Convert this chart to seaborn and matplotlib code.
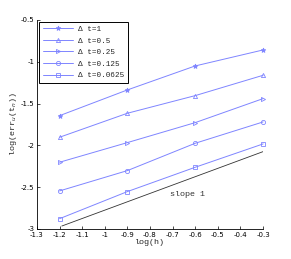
import matplotlib
matplotlib.use("Agg")
import matplotlib.pyplot as plt
import seaborn as sns
import pandas as pd

log_h = [-1.2, -0.9, -0.6, -0.3]
labels = ["Δ t=1", "Δ t=0.5", "Δ t=0.25", "Δ t=0.125", "Δ t=0.0625"]
err_dt1 = [-1.645, -1.337, -1.050, -0.859]
err_dt05 = [-1.903, -1.616, -1.405, -1.162]
err_dt025 = [-2.202, -1.967, -1.728, -1.441]
err_dt0125 = [-2.545, -2.302, -1.975, -1.720]
err_dt00625 = [-2.877, -2.553, -2.262, -1.983]
slope_x = [-1.19, -0.3]
slope_y = [-2.965, -2.075]

series = [err_dt1, err_dt05, err_dt025, err_dt0125, err_dt00625]
markers = ["*", "^", ">", "o", "s"]

sns.set_style("white")
plt.rcParams["font.family"] = ["DejaVu Sans"]

fig = plt.figure(figsize=(2.91, 2.59), dpi=100)
ax = fig.add_axes([0.127, 0.116, 0.777, 0.807])

blue = "#7f85ff"
for lab, vals, m in zip(labels, series, markers):
    df = pd.DataFrame({"x": log_h, "y": vals})
    filled = (m == "*")
    sns.lineplot(data=df, x="x", y="y", ax=ax, color=blue, lw=0.7,
                 marker=m, markersize=3.5 if filled else 3,
                 markerfacecolor=blue if filled else "none",
                 markeredgecolor=blue, markeredgewidth=0.6, label=lab,
                 clip_on=False)

sdf = pd.DataFrame({"x": slope_x, "y": slope_y})
sns.lineplot(data=sdf, x="x", y="y", ax=ax, color="#333333", lw=0.6)
ax.text(-0.71, -2.59, "slope 1", fontsize=6, family="Liberation Mono",
        va="center", ha="left", color="#333333")

ax.set_xlim(-1.3, -0.3)
ax.set_ylim(-3, -0.5)
ax.set_xticks([-1.3, -1.2, -1.1, -1.0, -0.9, -0.8, -0.7, -0.6, -0.5, -0.4, -0.3])
ax.set_xticklabels(["-1.3", "-1.2", "-1.1", "-1", "-0.9", "-0.8", "-0.7", "-0.6", "-0.5", "-0.4", "-0.3"])
ax.set_yticks([-3, -2.5, -2, -1.5, -1, -0.5])
ax.set_yticklabels(["-3", "-2.5", "-2", "-1.5", "-1", "-0.5"])
ax.tick_params(axis="both", labelsize=5, direction="in", length=2.5, width=0.5,
               pad=2, top=False, right=False, bottom=True, left=True, colors="black")
sns.despine(ax=ax, top=True, right=True)
for s in ["left", "bottom"]:
    ax.spines[s].set_linewidth(0.6)
    ax.spines[s].set_color("black")
ax.set_xlabel("log(h)", fontsize=6, family="Liberation Mono", labelpad=1)
ax.set_ylabel("log(err$_{u}$(t$_{n}$))", fontsize=6, family="Liberation Mono", labelpad=1)

leg = ax.legend(loc="upper left", prop={"family": ["Liberation Mono", "DejaVu Sans"], "size": 5.5},
                frameon=True, fancybox=False, edgecolor="black", framealpha=1,
                borderaxespad=0.3, handlelength=4, labelspacing=0.55, borderpad=0.45,
                handletextpad=0.6)
leg.get_frame().set_linewidth(0.7)

fig.savefig("out.png", dpi=100)
